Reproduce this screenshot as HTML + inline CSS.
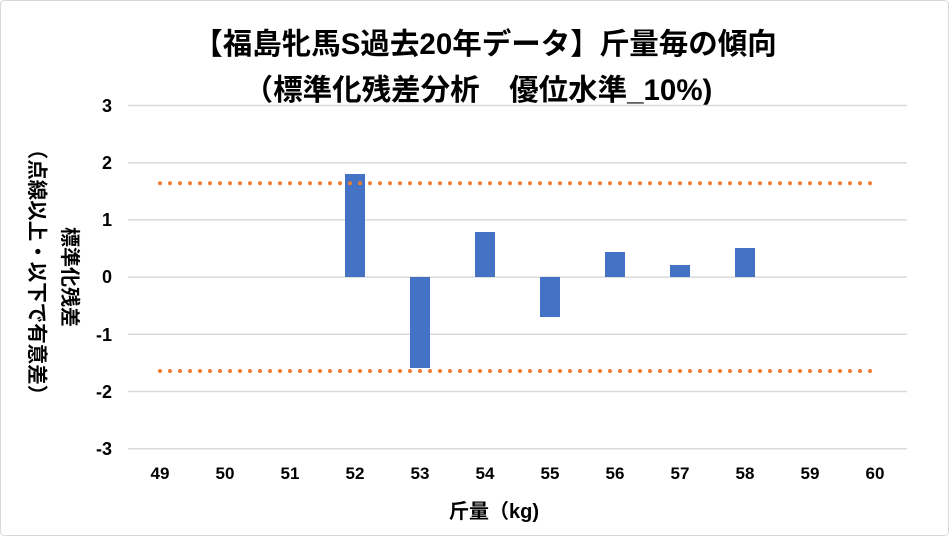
<!DOCTYPE html>
<html><head><meta charset="utf-8"><style>
body{margin:0;background:#fff}
svg{display:block}
text{font-family:"Liberation Sans","Noto Sans CJK JP",sans-serif;font-weight:bold;fill:#000}
</style></head><body>
<svg width="949" height="536" viewBox="0 0 949 536">
<rect x="0.5" y="0.5" width="948" height="535" rx="4" fill="#fff" stroke="#d9d9d9"/>
<text x="485" y="54" font-size="29.5" text-anchor="middle">【福島牝馬S過去20年データ】斤量毎の傾向</text>
<text x="478" y="100" font-size="29.5" text-anchor="middle">（標準化残差分析　優位水準_10%)</text>
<g stroke="#d9d9d9" stroke-width="1.5">
<line x1="128" x2="907" y1="105.5" y2="105.5"/>
<line x1="128" x2="907" y1="162.7" y2="162.7"/>
<line x1="128" x2="907" y1="219.9" y2="219.9"/>
<line x1="128" x2="907" y1="277.1" y2="277.1"/>
<line x1="128" x2="907" y1="334.3" y2="334.3"/>
<line x1="128" x2="907" y1="391.5" y2="391.5"/>
<line x1="128" x2="907" y1="448.7" y2="448.7"/>
</g>
<g font-size="18" text-anchor="end">
<text x="112" y="112">3</text><text x="112" y="169">2</text><text x="112" y="226">1</text><text x="112" y="283">0</text><text x="112" y="341">-1</text><text x="112" y="398">-2</text><text x="112" y="455">-3</text>
</g>
<g fill="#4472c4">
<rect x="345" y="174" width="20" height="103"/>
<rect x="410" y="277" width="20" height="91"/>
<rect x="475" y="232" width="20" height="45"/>
<rect x="540" y="277" width="20" height="40"/>
<rect x="605" y="252" width="20" height="25"/>
<rect x="670" y="265" width="20" height="12"/>
<rect x="735" y="248" width="20" height="29"/>
</g>
<g stroke="#ed7d31" stroke-width="4" stroke-linecap="round" stroke-dasharray="0 10">
<line x1="160" x2="875" y1="183.3" y2="183.3"/>
<line x1="160" x2="875" y1="371" y2="371"/>
</g>
<g font-size="17" text-anchor="middle">
<text x="160" y="479">49</text><text x="225" y="479">50</text><text x="290" y="479">51</text><text x="355" y="479">52</text><text x="420" y="479">53</text><text x="485" y="479">54</text><text x="550" y="479">55</text><text x="615" y="479">56</text><text x="680" y="479">57</text><text x="745" y="479">58</text><text x="810" y="479">59</text><text x="875" y="479">60</text>
</g>
<text x="494" y="518" font-size="20" text-anchor="middle">斤量（kg)</text>
<text transform="translate(63,277) rotate(90)" font-size="20" text-anchor="middle">標準化残差</text>
<text transform="translate(30,272) rotate(90)" font-size="20.5" text-anchor="middle">（点線以上・以下で有意差）</text>
</svg>
</body></html>
